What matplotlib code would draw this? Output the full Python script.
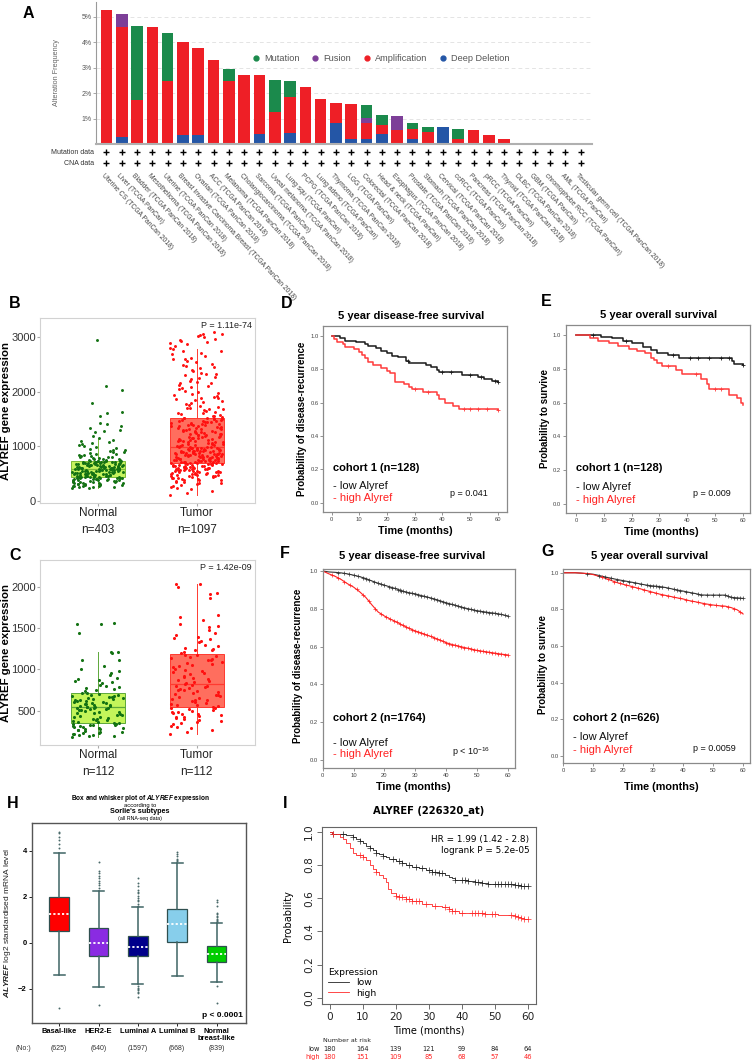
# %%
import numpy as np
import matplotlib.pyplot as plt
from matplotlib.lines import Line2D
from matplotlib.transforms import blended_transform_factory

plt.rcParams['font.family'] = ['Liberation Sans', 'DejaVu Sans']
plt.rcParams['mathtext.fontset'] = 'custom'
plt.rcParams['mathtext.rm'] = 'Liberation Sans'
plt.rcParams['mathtext.it'] = 'Liberation Sans:italic:bold'
plt.rcParams['mathtext.bf'] = 'Liberation Sans:bold'

# ----------------------------
# 1. Panel A data: alteration frequency (%) per TCGA study
# ----------------------------
cancers = [
    "Uterine CS (TCGA PanCan 2018)", "Liver (TCGA PanCan)", "Bladder (TCGA PanCan 2018)",
    "Mesothelioma (TCGA PanCan 2018)", "Uterine (TCGA PanCan 2018)",
    "Breast Invasive Carcinoma Breast (TCGA PanCan 2018)", "Ovarian (TCGA PanCan 2018)",
    "ACC (TCGA PanCan 2018)", "Melanoma (TCGA PanCan 2018)", "Cholangiocarcinoma (TCGA PanCan 2018)",
    "Sarcoma (TCGA PanCan)", "Uveal melanoma (TCGA PanCan 2018)", "Lung squ (TCGA PanCan)",
    "PCPG (TCGA PanCan 2018)", "Lung adeno (TCGA PanCan)", "Thymoma (TCGA PanCan 2018)",
    "LGG (TCGA PanCan)", "Colorectal (TCGA PanCan 2018)", "Head & neck (TCGA PanCan)",
    "Esophagus (TCGA PanCan 2018)", "Prostate (TCGA PanCan 2018)", "Stomach (TCGA PanCan 2018)",
    "Cervical (TCGA PanCan 2018)", "ccRCC (TCGA PanCan)", "Pancreas (TCGA PanCan 2018)",
    "pRCC (TCGA PanCan)", "Thyroid (TCGA PanCan 2018)", "DLBC (TCGA PanCan 2018)",
    "GBM (TCGA PanCan)", "chromophobe RCC (TCGA PanCan)", "AML (TCGA PanCan)",
    "Testicular germ cell (TCGA PanCan 2018)",
]
deep_deletion = [0, 0.29, 0, 0, 0, 0.37, 0.35, 0, 0, 0, 0.39, 0, 0.42, 0, 0, 0.81,
                 0.20, 0.18, 0.38, 0, 0.20, 0, 0.68, 0, 0, 0, 0, 0, 0, 0, 0, 0]
amplification = [5.28, 4.29, 1.71, 4.59, 2.47, 3.62, 3.42, 3.31, 2.48, 2.70, 2.31, 1.26, 1.43,
                 2.24, 1.78, 0.82, 1.36, 0.66, 0.37, 0.55, 0.39, 0.46, 0, 0.20, 0.55, 0.35,
                 0.21, 0, 0, 0, 0, 0]
fusion = [0, 0.54, 0, 0, 0, 0, 0, 0, 0, 0, 0, 0, 0, 0, 0, 0, 0, 0.17, 0, 0.55, 0, 0, 0, 0,
          0, 0, 0, 0, 0, 0, 0, 0]
mutation = [0, 0, 2.94, 0, 1.89, 0, 0, 0, 0.46, 0, 0, 1.25, 0.63, 0, 0, 0, 0, 0.51, 0.39, 0,
            0.22, 0.22, 0, 0.39, 0, 0, 0, 0, 0, 0, 0, 0]
alteration_types = ["Mutation", "Fusion", "Amplification", "Deep Deletion"]

# ----------------------------
# 2. Panels B and C: ALYREF expression (box stats: whislo, q1, med, q3, whishi)
# ----------------------------
b_box_normal = [230, 444, 590, 737, 1128]
b_box_tumor = [110, 689, 981, 1523, 2770]
b_normal = [
    232, 241, 248, 255, 259, 266, 270, 277, 283, 288, 292, 299, 304, 309, 314, 318, 323, 329, 333, 338,
    343, 347, 352, 356, 361, 365, 369, 373, 377, 381, 385, 389, 392, 396, 400, 403, 407, 410, 413, 417,
    420, 423, 426, 429, 432, 435, 437, 440, 442, 444,
    447, 450, 453, 456, 459, 462, 465, 468, 471, 474, 477, 480, 483, 486, 489, 492, 495, 498, 501, 504,
    507, 510, 513, 516, 519, 522, 525, 528, 531, 534, 537, 540, 543, 546, 549, 552, 555, 558, 561, 564,
    567, 570, 573, 576, 579, 582, 584, 586, 588, 590,
    593, 596, 599, 602, 605, 608, 611, 614, 617, 620, 623, 626, 629, 632, 635, 638, 641, 644, 647, 650,
    653, 656, 659, 662, 665, 668, 671, 674, 677, 680, 683, 686, 689, 692, 695, 698, 701, 704, 707, 710,
    713, 716, 719, 722, 725, 728, 731, 733, 735, 737,
    742, 748, 754, 760, 767, 774, 781, 788, 796, 804, 812, 820, 829, 838, 847, 857, 867, 878, 889, 900,
    912, 925, 938, 952, 967, 983, 1000, 1018, 1037, 1057, 1078, 1100, 1120, 1160, 1190, 1260, 1280,
    1290, 1330, 1370, 1400, 1420, 1560, 1600, 1620, 1800, 2030, 2100, 2950,
]
b_tumor = [
    112, 150, 185, 215, 240, 262, 280, 296, 310, 323, 335, 346, 356, 366, 375, 384, 392, 400, 408, 415,
    422, 429, 436, 442, 448, 454, 460, 466, 471, 477, 482, 487, 492, 497, 502, 507, 512, 517, 521, 526,
    530, 535, 539, 543, 548, 552, 556, 560, 564, 568, 572, 576, 580, 584, 588, 592, 596, 600, 604, 608,
    612, 616, 620, 624, 628, 632, 636, 640, 644, 648, 652, 656, 660, 664, 668, 672, 676, 680, 684, 688,
    692, 696, 699, 703, 707, 710, 714, 718, 721, 725, 729, 732, 736, 740, 743, 747, 751, 754, 758, 762,
    765, 769, 773, 776, 780, 784, 787, 791, 795, 798, 802, 806, 809, 813, 817, 820, 824, 828, 831, 835,
    839, 842, 846, 850, 853, 857, 861, 864, 868, 872, 875, 879, 883, 886, 890, 894, 897, 901, 905, 908,
    912, 916, 919, 923, 927, 930, 934, 938, 941, 945, 949, 952, 956, 960, 963, 967, 971, 974, 978, 981,
    988, 995, 1002, 1008, 1015, 1022, 1029, 1036, 1042, 1049, 1056, 1063, 1070, 1076, 1083, 1090, 1097,
    1104, 1110, 1117, 1124, 1131, 1138, 1144, 1151, 1158, 1165, 1172, 1178, 1185, 1192, 1199, 1206,
    1212, 1219, 1226, 1233, 1240, 1246, 1253, 1260, 1267, 1274, 1280, 1287, 1294, 1301, 1308, 1314,
    1321, 1328, 1335, 1342, 1348, 1355, 1362, 1369, 1376, 1382, 1389, 1396, 1403, 1410, 1416, 1423,
    1430, 1437, 1444, 1450, 1457, 1464, 1471, 1478, 1484, 1491, 1498, 1505, 1512, 1518, 1523,
    1535, 1548, 1561, 1574, 1588, 1602, 1616, 1630, 1645, 1660, 1675, 1690, 1706, 1722, 1738, 1755,
    1772, 1789, 1806, 1824, 1842, 1860, 1879, 1898, 1917, 1937, 1957, 1977, 1998, 2019, 2040, 2062,
    2084, 2106, 2129, 2152, 2175, 2199, 2223, 2247, 2272, 2297, 2322, 2348, 2374, 2400, 2427, 2454,
    2481, 2509, 2537, 2565, 2594, 2623, 2652, 2682, 2712, 2742, 2773, 2804, 2835, 2866, 2898, 2930,
    2962, 2995, 3028, 3061, 3095, 2150, 2320, 2460, 2600, 2750, 2880, 2950, 3010, 3050, 1880, 1700,
]
c_box_normal = [185, 347, 541, 711, 1214]
c_box_tumor = [218, 548, 823, 1186, 2034]
c_normal = [
    185, 195, 200, 205, 210, 215, 222, 228, 235, 240, 248, 255, 262, 268, 275, 282, 288, 295, 300, 306,
    312, 318, 323, 328, 333, 338, 342, 346,
    352, 360, 368, 375, 382, 390, 398, 405, 412, 420, 428, 436, 444, 452, 460, 468, 475, 483, 490, 497,
    505, 512, 518, 524, 529, 533, 537, 540,
    545, 551, 557, 563, 569, 575, 581, 587, 593, 599, 605, 611, 617, 623, 629, 635, 641, 647, 653, 659,
    665, 671, 677, 683, 689, 696, 703, 709,
    720, 735, 750, 765, 780, 790, 800, 815, 830, 845, 860, 870, 880, 900, 930, 960, 975, 1000, 1040,
    1110, 1115, 1200, 1210, 1215, 1440, 1550, 1555, 1560,
]
c_tumor = [
    218, 245, 270, 290, 305, 320, 335, 350, 365, 378, 390, 400, 410, 420, 430, 440, 448, 456, 464, 472,
    480, 490, 500, 510, 520, 530, 538, 545,
    555, 565, 575, 585, 595, 605, 615, 625, 635, 645, 655, 665, 675, 685, 695, 705, 715, 725, 735, 745,
    755, 765, 775, 785, 795, 805, 813, 820,
    830, 845, 858, 870, 885, 898, 910, 925, 940, 952, 965, 980, 995, 1010, 1025, 1040, 1055, 1068, 1080,
    1095, 1110, 1120, 1130, 1140, 1150, 1160, 1170, 1180,
    1195, 1210, 1230, 1245, 1260, 1280, 1300, 1330, 1350, 1365, 1375, 1390, 1420, 1445, 1475, 1515,
    1520, 1545, 1600, 1630, 1665, 1860, 1910, 1930, 2000, 2035, 2040, 1235,
]

# ----------------------------
# 3. Panels D-G: Kaplan-Meier curves (time in months, survival)
# ----------------------------
d_low_t = [0, 3, 5, 9, 12, 13, 16, 18, 20, 22, 24, 27, 28, 34, 36, 38, 39, 47, 53, 55, 58, 60]
d_low_s = [1.0, 0.985, 0.97, 0.96, 0.95, 0.94, 0.925, 0.91, 0.895, 0.88, 0.87, 0.85, 0.835, 0.825,
           0.81, 0.795, 0.78, 0.765, 0.755, 0.74, 0.73, 0.72]
d_low_cens = [27.5, 40, 43, 50, 54, 59, 60]
d_high_t = [0, 1, 2, 4, 5, 8, 10, 11, 12, 13, 15, 18, 20, 21, 23, 26, 28, 29, 33, 38, 39, 41, 44, 46, 60]
d_high_s = [1.0, 0.98, 0.965, 0.95, 0.935, 0.92, 0.905, 0.885, 0.865, 0.845, 0.825, 0.805, 0.79,
            0.775, 0.725, 0.71, 0.695, 0.68, 0.665, 0.645, 0.62, 0.60, 0.58, 0.56, 0.555]
d_high_cens = [30, 35, 48, 50, 53, 56, 60]

e_low_t = [0, 9, 13, 17, 20, 24, 27, 29, 33, 37, 56, 57, 60]
e_low_s = [1.0, 0.99, 0.98, 0.965, 0.95, 0.93, 0.91, 0.895, 0.88, 0.865, 0.845, 0.83, 0.82]
e_low_cens = [6, 18, 35, 41, 44, 48, 52, 55, 60]
e_high_t = [0, 5, 8, 12, 15, 19, 22, 25, 27, 28, 29, 31, 36, 38, 45, 47, 48, 55, 58, 59.5, 60]
e_high_s = [1.0, 0.98, 0.965, 0.955, 0.935, 0.915, 0.905, 0.895, 0.865, 0.85, 0.835, 0.815, 0.79,
            0.77, 0.74, 0.71, 0.68, 0.645, 0.625, 0.60, 0.585]
e_high_cens = [33, 43, 50, 52]

fg_t = [0, 2, 4, 6, 8, 10, 12, 14, 16, 18, 20, 22, 24, 26, 28, 30, 32, 34, 36, 38, 40, 42, 44, 46,
        48, 50, 52, 54, 56, 58, 60]
f_low_s = [1.0, 0.995, 0.993, 0.99, 0.985, 0.978, 0.97, 0.96, 0.947, 0.935, 0.925, 0.915, 0.905,
           0.893, 0.885, 0.879, 0.87, 0.862, 0.853, 0.843, 0.832, 0.823, 0.814, 0.805, 0.797, 0.79,
           0.785, 0.78, 0.776, 0.77, 0.762]
f_high_s = [1.0, 0.985, 0.972, 0.955, 0.933, 0.915, 0.89, 0.86, 0.82, 0.783, 0.762, 0.745, 0.73,
            0.712, 0.697, 0.683, 0.672, 0.66, 0.648, 0.635, 0.621, 0.611, 0.603, 0.595, 0.588, 0.58,
            0.575, 0.57, 0.565, 0.56, 0.556]
f_low_cens = [5, 7, 8.5, 10, 11.5, 13, 14, 15, 16.5, 18, 19, 20, 21.5, 22.5, 23.5, 24.5, 25, 25.5,
              26, 27, 28, 29, 30, 31, 32, 33, 34, 35, 36, 37, 38, 39, 40, 41, 42, 43, 44, 45, 46, 47,
              48, 49, 50, 51, 52, 53, 54, 55, 56, 57, 58, 59, 60]
f_high_cens = [3, 5, 7, 9, 11, 13, 15, 17, 19, 20.5, 22, 23, 24, 25, 26, 27, 28, 29, 30, 31, 32, 33,
               34, 35, 36, 37, 38, 39, 40, 41, 42, 43, 44, 45, 46, 47, 48, 49, 50, 51, 52, 53, 54,
               55, 56, 57, 58, 59, 60]
g_low_s = [1.0, 1.0, 1.0, 0.998, 0.995, 0.992, 0.985, 0.977, 0.97, 0.963, 0.957, 0.951, 0.945,
           0.938, 0.932, 0.928, 0.925, 0.92, 0.913, 0.906, 0.9, 0.893, 0.887, 0.879, 0.878, 0.878,
           0.878, 0.878, 0.866, 0.863, 0.86]
g_high_s = [1.0, 1.0, 1.0, 0.998, 0.996, 0.99, 0.98, 0.97, 0.958, 0.946, 0.937, 0.929, 0.92, 0.911,
            0.902, 0.893, 0.884, 0.877, 0.87, 0.863, 0.857, 0.848, 0.842, 0.835, 0.829, 0.824, 0.82,
            0.818, 0.81, 0.798, 0.775]
g_low_cens = [8, 12, 14, 16, 18, 20, 22, 24, 26, 28, 29, 30, 31, 32, 33, 35, 37, 38, 39, 41, 43, 45,
              46, 48, 50, 52, 54, 55, 56, 57, 58, 59, 60]
g_high_cens = [13, 15, 17, 19, 21, 23, 25, 27, 29, 31, 33, 35, 37, 39, 41, 43, 45, 47, 49, 51, 53,
               55, 57, 59]

# ----------------------------
# 4. Panel H: Sorlie subtypes (log2 standardised mRNA)
# ----------------------------
h_subtypes = ["Basal-like", "HER2-E", "Luminal A", "Luminal B", "Normal\nbreast-like"]
h_counts = ["(625)", "(640)", "(1597)", "(668)", "(839)"]
h_whislo = [-1.41, -1.91, -1.80, -1.45, -1.70]
h_q1 = [0.52, -0.57, -0.57, 0.04, -0.83]
h_med = [1.26, 0.0, -0.2, 0.80, -0.49]
h_q3 = [1.98, 0.62, 0.29, 1.45, -0.13]
h_whishi = [3.88, 2.26, 1.54, 3.48, 0.84]
h_fliers = [
    [4.1, 4.3, 4.45, 4.6, 4.75, 4.82, -2.85],
    [2.4, 2.5, 2.6, 2.7, 2.82, 2.9, 3.05, 3.1, 3.5, -2.7],
    [1.6, 1.7, 1.8, 1.85, 1.95, 2.05, 2.15, 2.2, 2.3, 2.45, 2.6, 2.8,
     -1.9, -1.95, -2.0, -2.05, -2.12, -2.2, -2.35],
    [3.55, 3.6, 3.65, 3.75, 3.85, 3.95],
    [0.9, 0.95, 1.0, 1.05, 1.1, 1.15, 1.25, 1.3, 1.6, 1.75, 1.85, -1.9, -2.6],
]
h_colors = ["#FF0000", "#8A2BE2", "#00008B", "#87CEEB", "#00CD00"]

# ----------------------------
# 5. Panel I: KM plot ALYREF (226320_at)
# ----------------------------
i_low_t = [0, 0.5, 5, 7, 8, 9, 10, 11, 12, 13, 14, 15, 16, 17, 18, 20, 22, 23, 25, 27, 29, 31, 33,
           35, 36, 37, 38, 42, 44, 46, 48, 52, 56, 58, 60]
i_low_s = [1.0, 0.984, 0.978, 0.966, 0.955, 0.945, 0.93, 0.915, 0.90, 0.89, 0.875, 0.865, 0.855,
           0.845, 0.838, 0.823, 0.81, 0.80, 0.79, 0.78, 0.77, 0.76, 0.752, 0.742, 0.73, 0.72, 0.71,
           0.705, 0.698, 0.69, 0.686, 0.684, 0.68, 0.676, 0.676]
i_high_t = [0, 0.5, 3, 4, 5, 6, 7, 8, 10, 11, 12, 13, 14, 15, 16, 17, 17.7, 18.5, 20, 21, 23, 25,
            28, 31, 34, 36, 37, 39, 47, 51, 56, 57, 58, 59, 60]
i_high_s = [1.0, 0.984, 0.97, 0.955, 0.93, 0.905, 0.875, 0.86, 0.85, 0.83, 0.80, 0.775, 0.76, 0.74,
            0.72, 0.70, 0.655, 0.632, 0.615, 0.605, 0.592, 0.58, 0.565, 0.553, 0.545, 0.535, 0.52,
            0.512, 0.505, 0.498, 0.495, 0.488, 0.482, 0.476, 0.476]
i_low_cens = [1, 4, 7, 9, 12, 14, 16, 19, 21, 22, 24, 26, 28, 30, 31, 32, 33, 34, 38, 40, 41, 42,
              44, 45, 46, 48, 50, 51, 52, 53, 54, 55, 56, 57, 58, 59, 60]
i_high_cens = [1, 9, 10, 14, 20, 21, 22, 23, 24, 25, 26, 27, 29, 32, 35, 36, 37, 38, 40, 43, 44, 45,
               46, 47, 49, 50, 55, 56, 57, 58, 59, 60]
risk_times = [0, 10, 20, 30, 40, 50, 60]
risk_low = [180, 164, 139, 121, 99, 84, 64]
risk_high = [180, 151, 109, 85, 68, 57, 46]

# ----------------------------
# Figure helpers (pixel layout on a 752 x 1062 canvas)
# ----------------------------
W, H = 752, 1062
fig = plt.figure(figsize=(W / 100, H / 100), dpi=100)


def px(l, t, r, b):
    return [l / W, 1 - b / H, (r - l) / W, (b - t) / H]


def ftext(x, y, s, **kw):
    kw.setdefault('ha', 'center')
    kw.setdefault('va', 'center')
    return fig.text(x / W, 1 - y / H, s, **kw)


def jitter(n, half):
    i = np.arange(n)
    u = (i * 0.7548776662 + i * i * 0.5698402910) % 1.0
    return (u - 0.5) * 2 * half


def step_at(times, surv, at):
    idx = np.searchsorted(times, at, side='right') - 1
    return np.asarray(surv)[idx]


# panel letters
for letter, (lx, ly) in {"A": (28, 13), "B": (15, 303), "C": (15, 555), "D": (287, 303),
                         "E": (546, 301), "F": (285, 553), "G": (548, 551), "H": (13, 803),
                         "I": (285, 803)}.items():
    ftext(lx, ly, letter, fontsize=11.5, fontweight='bold')

# ----------------------------
# Panel A
# ----------------------------
ax_a = fig.add_axes(px(95.7, 2, 591.7, 144))
xa = np.arange(len(cancers))
colors_a = {"Mutation": "#1B8A4C", "Fusion": "#7D3F98", "Amplification": "#EE1F26",
            "Deep Deletion": "#2456A6"}
bottom = np.zeros(len(cancers))
for vals, name in [(deep_deletion, "Deep Deletion"), (amplification, "Amplification"),
                   (fusion, "Fusion"), (mutation, "Mutation")]:
    ax_a.bar(xa, vals, width=0.76, bottom=bottom, color=colors_a[name], linewidth=0, zorder=2)
    bottom += np.array(vals)
ax_a.set_xlim(-0.705, 31.72)
ax_a.set_ylim(0, 5.58)
ax_a.set_yticks([1, 2, 3, 4, 5])
ax_a.set_yticklabels(["1%", "2%", "3%", "4%", "5%"])
ax_a.set_xticks([])
ax_a.yaxis.grid(True, linestyle=(0, (4, 3)), color='#E4E4E4', linewidth=0.7)
ax_a.set_axisbelow(True)
for side in ['top', 'right']:
    ax_a.spines[side].set_visible(False)
ax_a.spines['left'].set_color('#9A9A9A')
ax_a.spines['left'].set_linewidth(0.8)
ax_a.spines['bottom'].set_color('#B0B0B0')
ax_a.spines['bottom'].set_linewidth(1.5)
ax_a.tick_params(axis='y', length=2, width=0.6, color='#999', labelsize=5, labelcolor='#555', pad=1)
ax_a.set_ylabel("Alteration Frequency", fontsize=5.2, color='#666')
ax_a.yaxis.set_label_coords((60 - 95.7) / 496, 0.5)
handles = [Line2D([], [], ls='', marker='o', ms=3.5, color=colors_a[n]) for n in alteration_types]
ax_a.legend(handles, alteration_types, ncol=4, loc='center', bbox_to_anchor=(0.575, 0.60),
            frameon=False, fontsize=6.6, labelcolor='#555', handlelength=0.8, handletextpad=0.5,
            columnspacing=1.3)

ax_r = fig.add_axes(px(95.7, 146, 591.7, 170))
ax_r.set_xlim(ax_a.get_xlim())
ax_r.set_ylim(0, 2)
ax_r.axis('off')
ax_r.scatter(xa, np.full(len(xa), 1.5), marker='+', s=13, linewidths=1.0, color='black')
ax_r.scatter(xa, np.full(len(xa), 0.56), marker='+', s=13, linewidths=1.0, color='black')
ax_r.text(-0.8, 1.5, "Mutation data", ha='right', va='center', fontsize=5, color='#333')
ax_r.text(-0.8, 0.56, "CNA data", ha='right', va='center', fontsize=5, color='#333')
for i, name in enumerate(cancers):
    ax_r.text(i - 0.1, -0.15, name, rotation=-47, rotation_mode='anchor', ha='left', va='top',
              fontsize=4.9, color='#444')


# ----------------------------
# Panels B and C: jittered box plots
# ----------------------------
def expr_panel(rect, box_n, box_t, pts_n, pts_t, ylim, yticks, ntxt, ptxt, fill_n, fill_t, size):
    ax = fig.add_axes(px(*rect))
    stats = []
    for b in (box_n, box_t):
        stats.append(dict(whislo=b[0], q1=b[1], med=b[2], q3=b[3], whishi=b[4], fliers=[]))
    bp = ax.bxp(stats, positions=[1, 2], widths=0.55, patch_artist=True, showcaps=False,
                showfliers=False, manage_ticks=False)
    for k, (fc, ec) in enumerate([fill_n, fill_t]):
        bp['boxes'][k].set_facecolor(fc)
        bp['boxes'][k].set_edgecolor(ec)
        bp['boxes'][k].set_linewidth(0.7)
        bp['medians'][k].set_color(ec)
        bp['medians'][k].set_linewidth(0.9)
        for w in bp['whiskers'][2 * k:2 * k + 2]:
            w.set_color(ec)
            w.set_linewidth(0.7)
    ax.scatter(1 + jitter(len(pts_n), 0.27), pts_n, s=size, color='#137213', linewidths=0, zorder=3)
    ax.scatter(2 + jitter(len(pts_t), 0.27), pts_t, s=size, color='#FF1010', linewidths=0, zorder=3)
    ax.set_xlim(0.41, 2.59)
    ax.set_ylim(*ylim)
    ax.set_yticks(yticks)
    ax.set_xticks([1, 2])
    ax.set_xticklabels(["Normal\nn=%d" % ntxt[0], "Tumor\nn=%d" % ntxt[1]], linespacing=1.5)
    ax.tick_params(axis='x', length=2, color='#AAA', labelsize=8.5, labelcolor='#222', pad=1)
    ax.tick_params(axis='y', length=2, color='#AAA', labelsize=8, labelcolor='#333', pad=1)
    for sp in ax.spines.values():
        sp.set_color('#D2D2D2')
        sp.set_linewidth(0.8)
    ax.set_ylabel("ALYREF gene expression", fontsize=8.2, fontweight='bold')
    ax.yaxis.set_label_coords((11 - rect[0]) / (rect[2] - rect[0]), 0.5)
    ax.text(0.985, 0.985, ptxt, transform=ax.transAxes, ha='right', va='top', fontsize=6.5,
            color='#222')
    return ax


expr_panel((40, 318, 255, 503.3), b_box_normal, b_box_tumor, b_normal, b_tumor, (-42, 3345),
           [0, 1000, 2000, 3000], (403, 1097), "P = 1.11e-74",
           ('#C6F25E', '#7DBB3A'), ('#FF6E5E', '#FF3A30'), 4.5)
expr_panel((40, 560, 255, 745), c_box_normal, c_box_tumor, c_normal, c_tumor, (85, 2325),
           [500, 1000, 1500, 2000], (112, 112), "P = 1.42e-09",
           ('#C4F55A', '#5DA83A'), ('#FF6E5E', '#FF3A30'), 5)


# ----------------------------
# Panels D-G: survival curves
# ----------------------------
def km_axes(rect, xlim, ylim):
    ax = fig.add_axes(px(*rect))
    ax.set_xlim(*xlim)
    ax.set_ylim(*ylim)
    ax.set_xticks([0, 10, 20, 30, 40, 50, 60])
    ax.set_yticks([0, 0.2, 0.4, 0.6, 0.8, 1.0])
    ax.set_yticklabels(["0.0", "0.2", "0.4", "0.6", "0.8", "1.0"])
    ax.tick_params(labelsize=4.2, labelcolor='#444', length=2, width=0.5, color='#666', pad=1.5)
    for sp in ax.spines.values():
        sp.set_color('#8A8A8A')
        sp.set_linewidth(0.9)
    return ax


def km_text(x, ys, cohort, ptxt, px_x, p_y):
    ftext(x, ys[0], cohort, ha='left', fontsize=8, fontweight='bold')
    ftext(x, ys[1], "- low Alyref", ha='left', fontsize=8, color='#111')
    ftext(x, ys[2], "- high Alyref", ha='left', fontsize=8, color='#FF2020')
    ftext(px_x, p_y, ptxt, ha='left', fontsize=6.5, color='#111')


ax_d = km_axes((323.3, 325.7, 506.7, 511.7), (-3, 63.3), (-0.054, 1.06))
ax_d.step(d_low_t, d_low_s, where='post', color='#1A1A1A', lw=1.1)
ax_d.step(d_high_t, d_high_s, where='post', color='#FF3B3B', lw=1.1)
ax_d.plot(d_low_cens, step_at(d_low_t, d_low_s, d_low_cens), '+', color='#1A1A1A', ms=3, mew=0.6)
ax_d.plot(d_high_cens, step_at(d_high_t, d_high_s, d_high_cens), '+', color='#FF3B3B', ms=3, mew=0.6)
ftext(411, 316, "5 year disease-free survival", fontsize=8, fontweight='bold')
ftext(415, 530.7, "Time (months)", fontsize=7.8, fontweight='bold')
ftext(301.7, 418.7, "Probability of disease-recurrence", rotation=90, fontsize=7, fontweight='bold')
km_text(333.3, (468.3, 485.7, 497.7), "cohort 1 (n=128)", "p = 0.041", 450, 494)

ax_e = km_axes((566, 325, 750, 513.3), (-3.6, 62.6), (-0.055, 1.059))
ax_e.step(e_low_t, e_low_s, where='post', color='#1A1A1A', lw=1.1)
ax_e.step(e_high_t, e_high_s, where='post', color='#FF3B3B', lw=1.1)
ax_e.plot(e_low_cens, step_at(e_low_t, e_low_s, e_low_cens), '+', color='#1A1A1A', ms=3, mew=0.6)
ax_e.plot(e_high_cens, step_at(e_high_t, e_high_s, e_high_cens), '+', color='#FF3B3B', ms=3, mew=0.6)
ftext(659, 315, "5 year overall survival", fontsize=8, fontweight='bold')
ftext(661, 531.7, "Time (months)", fontsize=7.8, fontweight='bold')
ftext(545, 419, "Probability to survive", rotation=90, fontsize=7, fontweight='bold')
km_text(576, (468, 487, 500), "cohort 1 (n=128)", "p = 0.009", 693, 494)

ax_f = km_axes((322.7, 569.3, 515, 768.3), (0, 62.4), (-0.044, 1.009))
ax_f.plot(fg_t, f_low_s, color='#333333', lw=0.8)
ax_f.plot(fg_t, f_high_s, color='#FF2020', lw=0.8)
ax_f.plot(f_low_cens, np.interp(f_low_cens, fg_t, f_low_s), '+', color='#333333', ms=3.5, mew=0.5)
ax_f.plot(f_high_cens, np.interp(f_high_cens, fg_t, f_high_s), '+', color='#FF2020', ms=3.5, mew=0.5)
ftext(412, 556, "5 year disease-free survival", fontsize=8, fontweight='bold')
ftext(413, 786.7, "Time (months)", fontsize=7.8, fontweight='bold')
ftext(298.3, 666, "Probability of disease-recurrence", rotation=90, fontsize=7, fontweight='bold')
km_text(332.7, (718.3, 742.7, 754.3), "cohort 2 (n=1764)", "p < 10$^{-16}$", 451.7, 751.7)

ax_g = km_axes((563.3, 569.3, 750, 763.3), (0, 62.3), (-0.04, 1.019))
ax_g.plot(fg_t, g_low_s, color='#333333', lw=0.8)
ax_g.plot(fg_t, g_high_s, color='#FF2020', lw=0.8)
ax_g.plot(g_low_cens, np.interp(g_low_cens, fg_t, g_low_s), '+', color='#333333', ms=3.5, mew=0.5)
ax_g.plot(g_high_cens, np.interp(g_high_cens, fg_t, g_high_s), '+', color='#FF2020', ms=3.5, mew=0.5)
ftext(650, 556, "5 year overall survival", fontsize=8, fontweight='bold')
ftext(661, 786.7, "Time (months)", fontsize=7.8, fontweight='bold')
ftext(543.3, 664, "Probability to survive", rotation=90, fontsize=7, fontweight='bold')
km_text(573.3, (717.7, 736.7, 750), "cohort 2 (n=626)", "p = 0.0059", 693, 748.3)

# ----------------------------
# Panel H: box and whisker by subtype
# ----------------------------
ax_h = fig.add_axes(px(31.7, 823.3, 246, 1023.3))
h_stats = [dict(whislo=h_whislo[k], q1=h_q1[k], med=h_med[k], q3=h_q3[k], whishi=h_whishi[k],
                fliers=h_fliers[k]) for k in range(len(h_subtypes))]
bp_h = ax_h.bxp(h_stats, positions=range(1, 6), widths=0.5, patch_artist=True, manage_ticks=False,
                capwidths=0.28,
                boxprops=dict(edgecolor='#2F4F4F', linewidth=0.9),
                whiskerprops=dict(color='#3F6464', linewidth=1.1),
                capprops=dict(color='#3F6464', linewidth=1.1),
                medianprops=dict(color='white', linestyle=(0, (1.2, 1.2)), linewidth=1.3),
                flierprops=dict(marker='o', markersize=1.4, markerfacecolor='#4A6A6A',
                                markeredgecolor='none'))
for patch, col in zip(bp_h['boxes'], h_colors):
    patch.set_facecolor(col)
ax_h.set_xlim(0.3, 5.75)
ax_h.set_ylim(-3.5, 5.19)
ax_h.set_yticks([-2, 0, 2, 4])
ax_h.set_xticks(range(1, 6))
ax_h.set_xticklabels(h_subtypes, fontweight='bold', linespacing=1.0)
ax_h.tick_params(axis='x', labelsize=5.4, length=2, width=0.6, pad=1.5)
ax_h.tick_params(axis='y', labelsize=5.5, length=2, width=0.6, pad=1.5)
for lab in ax_h.get_yticklabels():
    lab.set_fontweight('bold')
for sp in ax_h.spines.values():
    sp.set_color('#555555')
    sp.set_linewidth(1.0)
ax_h.set_ylabel(r"$\it{ALYREF}$ log2 standardised mRNA level", fontsize=6, color='#222')
ax_h.yaxis.set_label_coords((13 - 31.7) / 214.3, 0.5)
ax_h.text(0.985, 0.02, "p < 0.0001", transform=ax_h.transAxes, ha='right', va='bottom',
          fontsize=6, fontweight='bold')
trans_h = blended_transform_factory(ax_h.transData, ax_h.transAxes)
for k, cnt in enumerate(h_counts):
    ax_h.text(k + 1, -0.1285, cnt, transform=trans_h, ha='center', va='center', fontsize=5,
              color='#333')
ax_h.text(0.3, -0.1285, "(No:)", transform=trans_h, ha='right', va='center', fontsize=5, color='#333')
ftext(140, 798.3, r"Box and whisker plot of $\it{ALYREF}$ expression", fontsize=4.7,
      fontweight='bold')
ftext(140, 805, "according to", fontsize=4.2)
ftext(140, 811.7, "Sorlie's subtypes", fontsize=5.2, fontweight='bold')
ftext(140, 818.3, "(all RNA-seq data)", fontsize=3.8)

# ----------------------------
# Panel I: KM plotter style
# ----------------------------
dj = 'DejaVu Sans'
ax_i = fig.add_axes(px(321.7, 827.3, 535.7, 1004))
ax_i.step(i_low_t, i_low_s, where='post', color='#222222', lw=0.6)
ax_i.step(i_high_t, i_high_s, where='post', color='#FF2A2A', lw=0.6)
ax_i.plot(i_low_cens, step_at(i_low_t, i_low_s, i_low_cens), '+', color='#222222', ms=4.5, mew=0.5)
ax_i.plot(i_high_cens, step_at(i_high_t, i_high_s, i_high_cens), '+', color='#FF2A2A', ms=4.5, mew=0.5)
ax_i.set_xlim(-2.5, 62.4)
ax_i.set_ylim(-0.038, 1.027)
ax_i.set_xticks(risk_times)
ax_i.set_yticks([0, 0.2, 0.4, 0.6, 0.8, 1.0])
ax_i.set_yticklabels(["0.0", "0.2", "0.4", "0.6", "0.8", "1.0"], rotation=90, va='center')
ax_i.tick_params(labelsize=7.6, length=3.5, width=0.6, color='#555', labelcolor='#222', pad=2)
for lab in ax_i.get_xticklabels() + ax_i.get_yticklabels():
    lab.set_family(dj)
for sp in ax_i.spines.values():
    sp.set_color('#666666')
    sp.set_linewidth(0.8)
ax_i.set_xlabel("Time (months)", fontsize=7, family=dj, labelpad=3)
ax_i.set_ylabel("Probability", fontsize=7, family=dj)
ax_i.yaxis.set_label_coords((293 - 321.7) / 214, 0.5)
ax_i.set_title("ALYREF (226320_at)", fontsize=7.2, fontweight='bold', family=dj, pad=10)
ax_i.text(0.97, 0.955, "HR = 1.99 (1.42 - 2.8)\nlogrank P = 5.2e-05", transform=ax_i.transAxes,
          ha='right', va='top', fontsize=6.4, family=dj, linespacing=1.25)
leg = ax_i.legend([Line2D([], [], color='#222222', lw=0.6), Line2D([], [], color='#FF2A2A', lw=0.6)],
                  ["low", "high"], title="Expression", loc='lower left', frameon=False,
                  prop={'family': dj, 'size': 6.6}, title_fontproperties={'family': dj, 'size': 6.6},
                  handlelength=2.3, borderaxespad=0.3, labelspacing=0.15)
leg._legend_box.align = 'left'
trans_i = blended_transform_factory(ax_i.transData, fig.transFigure)
fig.text(-2.2, 1 - 1040.7 / H, "Number at risk", transform=trans_i, ha='left', va='center',
         fontsize=4.6, family=dj, color='#222')
fig.text(-3.0, 1 - 1049.3 / H, "low", transform=trans_i, ha='right', va='center', fontsize=4.8,
         family=dj, color='#222')
fig.text(-3.0, 1 - 1057.3 / H, "high", transform=trans_i, ha='right', va='center', fontsize=4.8,
         family=dj, color='#FF2020')
for t, lo, hi in zip(risk_times, risk_low, risk_high):
    fig.text(t, 1 - 1049.3 / H, str(lo), transform=trans_i, ha='center', va='center', fontsize=4.8,
             family=dj, color='#222')
    fig.text(t, 1 - 1057.3 / H, str(hi), transform=trans_i, ha='center', va='center', fontsize=4.8,
             family=dj, color='#FF2020')

fig.savefig("out.png", dpi=100)
